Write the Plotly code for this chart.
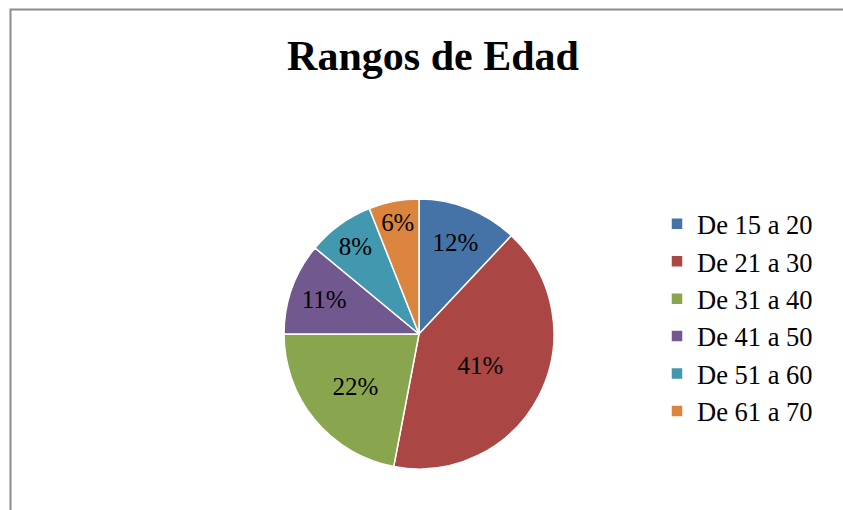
import plotly.graph_objects as go

categories = ["De 15 a 20", "De 21 a 30", "De 31 a 40", "De 41 a 50", "De 51 a 60", "De 61 a 70"]
values = [12, 41, 22, 11, 8, 6]
colors = ["#4572A7", "#AA4643", "#89A54E", "#71588F", "#4198AF", "#DB843D"]

W, H = 843, 510
cx, cy, R = 419, 334, 135

fig = go.Figure(go.Pie(
    labels=categories,
    values=values,
    sort=False,
    direction="clockwise",
    rotation=0,
    marker=dict(colors=colors, line=dict(color="white", width=1.5)),
    textinfo="percent",
    textposition="inside",
    insidetextorientation="horizontal",
    textfont=dict(family="Liberation Serif", size=25, color="black"),
    hoverinfo="skip",
    domain=dict(x=[(cx - R) / W, (cx + R) / W], y=[(H - cy - R) / H, (H - cy + R) / H]),
))

fig.update_layout(
    width=W, height=H,
    margin=dict(l=0, r=0, t=0, b=0),
    paper_bgcolor="white",
    plot_bgcolor="white",
    title=dict(text="Rangos de Edad", x=433 / W, xanchor="center", y=1 - 55 / H, yanchor="middle",
               font=dict(family="Liberation Serif", size=42, color="black", weight="bold")),
    legend=dict(x=657 / W, xanchor="left", y=1 - 200 / H, yanchor="top",
                font=dict(family="Liberation Serif", size=26.5, color="black"),
                bgcolor="rgba(0,0,0,0)", tracegroupgap=0),
    shapes=[dict(type="rect", xref="paper", yref="paper",
                 x0=10.5 / W, x1=1.05, y0=-0.05, y1=1 - 9.5 / H,
                 line=dict(color="#8c8c8c", width=2), fillcolor="rgba(0,0,0,0)")],
)

fig.write_html(
    "out.html",
    config={"displayModeBar": False},
    post_script="document.body.style.margin='0';document.body.style.overflow='hidden';",
)
